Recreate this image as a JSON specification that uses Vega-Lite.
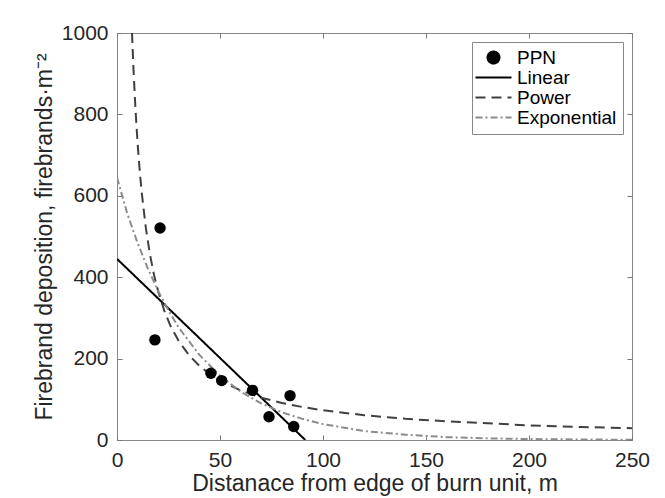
{
  "$schema": "https://vega.github.io/schema/vega-lite/v6.json",
  "width": 515,
  "height": 407,
  "autosize": {"type": "none"},
  "padding": {"left": 117, "top": 33, "right": 33, "bottom": 58},
  "background": "white",
  "config": {
    "view": {"stroke": "#888888", "strokeWidth": 1},
    "font": "Liberation Sans",
    "axis": {"grid": false, "labelFont": "Liberation Sans", "titleFont": "Liberation Sans", "labelColor": "#262626", "titleColor": "#262626", "tickColor": "#777777", "tickWidth": 1, "domainColor": "#888888", "titleFontWeight": "normal"}
  },
  "data": {
    "values": [
      {"series": "PPN", "x": 18.4, "y": 246},
      {"series": "PPN", "x": 20.9, "y": 521},
      {"series": "PPN", "x": 45.6, "y": 164},
      {"series": "PPN", "x": 50.8, "y": 146},
      {"series": "PPN", "x": 65.8, "y": 122},
      {"series": "PPN", "x": 73.8, "y": 57},
      {"series": "PPN", "x": 84.0, "y": 109},
      {"series": "PPN", "x": 85.8, "y": 33},
      {"series": "Linear", "x": 0, "y": 445},
      {"series": "Linear", "x": 91.4, "y": 0},
      {"series": "Power", "x": 7.29, "y": 1000},
      {"series": "Power", "x": 8, "y": 911},
      {"series": "Power", "x": 9, "y": 810},
      {"series": "Power", "x": 10, "y": 729},
      {"series": "Power", "x": 11, "y": 663},
      {"series": "Power", "x": 12, "y": 608},
      {"series": "Power", "x": 14, "y": 521},
      {"series": "Power", "x": 16, "y": 456},
      {"series": "Power", "x": 18, "y": 405},
      {"series": "Power", "x": 20, "y": 365},
      {"series": "Power", "x": 23, "y": 317},
      {"series": "Power", "x": 26, "y": 280},
      {"series": "Power", "x": 30, "y": 243},
      {"series": "Power", "x": 35, "y": 208},
      {"series": "Power", "x": 40, "y": 182},
      {"series": "Power", "x": 45, "y": 162},
      {"series": "Power", "x": 50, "y": 146},
      {"series": "Power", "x": 60, "y": 122},
      {"series": "Power", "x": 70, "y": 104},
      {"series": "Power", "x": 80, "y": 91},
      {"series": "Power", "x": 90, "y": 81},
      {"series": "Power", "x": 100, "y": 73},
      {"series": "Power", "x": 120, "y": 61},
      {"series": "Power", "x": 140, "y": 52},
      {"series": "Power", "x": 160, "y": 46},
      {"series": "Power", "x": 180, "y": 41},
      {"series": "Power", "x": 200, "y": 36},
      {"series": "Power", "x": 225, "y": 32},
      {"series": "Power", "x": 250, "y": 29},
      {"series": "Exponential", "x": 0, "y": 645},
      {"series": "Exponential", "x": 5, "y": 556},
      {"series": "Exponential", "x": 10, "y": 484},
      {"series": "Exponential", "x": 15, "y": 421},
      {"series": "Exponential", "x": 20, "y": 366},
      {"series": "Exponential", "x": 25, "y": 318},
      {"series": "Exponential", "x": 30, "y": 276},
      {"series": "Exponential", "x": 40, "y": 209},
      {"series": "Exponential", "x": 50, "y": 158},
      {"series": "Exponential", "x": 60, "y": 119},
      {"series": "Exponential", "x": 70, "y": 90},
      {"series": "Exponential", "x": 80, "y": 68},
      {"series": "Exponential", "x": 90, "y": 52},
      {"series": "Exponential", "x": 100, "y": 39},
      {"series": "Exponential", "x": 120, "y": 22},
      {"series": "Exponential", "x": 140, "y": 13},
      {"series": "Exponential", "x": 160, "y": 7},
      {"series": "Exponential", "x": 180, "y": 4},
      {"series": "Exponential", "x": 200, "y": 2.4},
      {"series": "Exponential", "x": 225, "y": 1.2},
      {"series": "Exponential", "x": 250, "y": 0.6}
    ]
  },
  "resolve": {"axis": {"x": "independent", "y": "independent"}},
  "layer": [
    {
      "transform": [{"filter": "datum.series !== 'PPN'"}],
      "mark": {"type": "line", "strokeWidth": 2, "clip": true},
      "encoding": {
        "x": {"field": "x", "type": "quantitative", "scale": {"domain": [0, 250], "nice": false},
          "axis": {"orient": "bottom", "values": [0, 50, 100, 150, 200, 250], "format": "d", "title": "Distanace from edge of burn unit, m", "labelFontSize": 21, "titleFontSize": 23, "tickSize": -5, "labelPadding": 14, "labelFlush": false, "domain": false, "titlePadding": 2}},
        "y": {"field": "y", "type": "quantitative", "scale": {"domain": [0, 1000], "nice": false},
          "axis": {"orient": "left", "values": [0, 200, 400, 600, 800, 1000], "format": "d", "title": "Firebrand deposition, firebrands·m⁻²", "labelFontSize": 21, "titleFontSize": 23, "tickSize": -5, "labelPadding": 14, "domain": false, "titlePadding": 5}},
        "color": {"field": "series", "type": "nominal",
          "scale": {"domain": ["PPN", "Linear", "Power", "Exponential"], "range": ["#000000", "#000000", "#404040", "#8c8c8c"]},
          "legend": {"title": null, "orient": "top-right", "offset": 9, "padding": 6, "strokeColor": "#888888", "fillColor": "white",
            "labelFont": "Liberation Sans", "labelFontSize": 19, "labelColor": "#000000", "symbolSize": 144, "symbolOffset": 6, "labelOffset": 14, "rowPadding": 0, "symbolStrokeWidth": 2,
            "encode": {"symbols": {"update": {
              "shape": {"signal": "datum.value === 'PPN' ? 'circle' : 'M-3,0H3'"},
              "fill": {"signal": "datum.value === 'PPN' ? '#000000' : 'transparent'"},
              "stroke": {"signal": "datum.value === 'PPN' ? 'transparent' : scale('color', datum.value)"},
              "strokeDash": {"signal": "datum.value === 'Power' ? [10, 6] : datum.value === 'Exponential' ? [7, 3, 2, 3] : [1, 0]"}
            }}}}},
        "strokeDash": {"field": "series", "type": "nominal",
          "scale": {"domain": ["PPN", "Linear", "Power", "Exponential"], "range": [[1, 0], [1, 0], [10, 6], [7, 3, 2, 3]]},
          "legend": null}
      }
    },
    {
      "transform": [{"filter": "datum.series === 'PPN'"}],
      "mark": {"type": "point", "filled": true, "size": 130, "opacity": 1, "color": "#000000"},
      "encoding": {
        "x": {"field": "x", "type": "quantitative", "scale": {"domain": [0, 250], "nice": false},
          "axis": {"orient": "top", "values": [0, 50, 100, 150, 200, 250], "labels": false, "title": null, "tickSize": -5, "domain": false}},
        "y": {"field": "y", "type": "quantitative", "scale": {"domain": [0, 1000], "nice": false},
          "axis": {"orient": "right", "values": [0, 200, 400, 600, 800, 1000], "labels": false, "title": null, "tickSize": -5, "domain": false}}
      }
    }
  ]
}
